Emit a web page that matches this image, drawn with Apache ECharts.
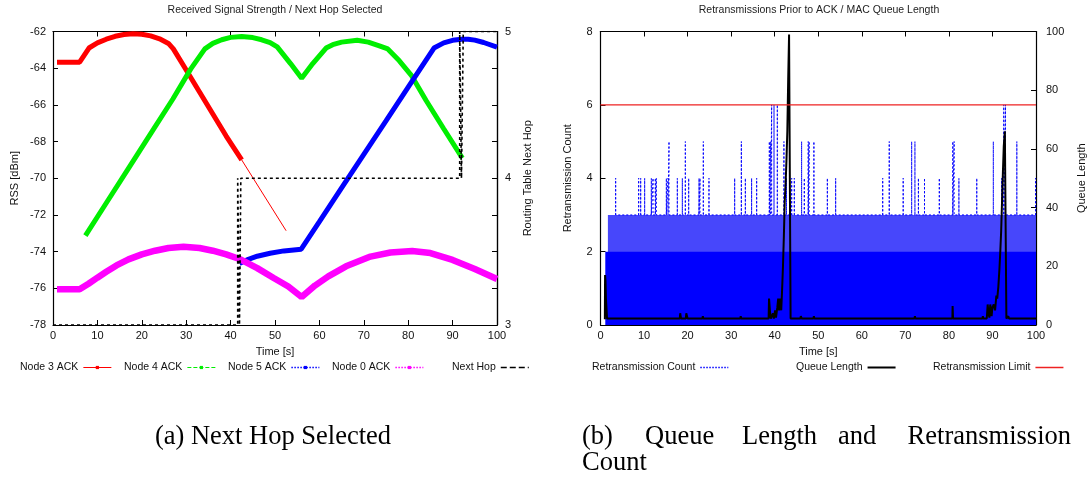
<!DOCTYPE html>
<html><head><meta charset="utf-8">
<script src="https://cdn.jsdelivr.net/npm/echarts@6/dist/echarts.min.js"></script>
<style>html,body{margin:0;padding:0;background:#fff}#c{width:1089px;height:477px}</style>
</head><body><div id="c"></div><script>
// ---------- Data: (a) Received signal strength / next hop ----------
const node3Time = [0.9, 6.0, 8.1, 10, 12, 14, 16, 18, 20, 22, 24, 26, 27.1, 30, 33, 36, 39, 42.5];
const node3Rss  = [-63.67, -63.67, -62.9, -62.62, -62.42, -62.26, -62.16, -62.12, -62.15, -62.24, -62.4, -62.65, -62.95, -64.1, -65.3, -66.5, -67.7, -69.0];
const node3TailTime = [42.5, 52.5];
const node3TailRss  = [-69.0, -72.86];
const node4Time = [7.3, 12, 17, 22, 27, 31, 34.2, 36, 38, 40, 42.5, 45, 47, 48.9, 50.5, 53.5, 56.0, 58.5, 61.5, 63, 65, 68.5, 71, 73.5, 75.4, 78, 80.8, 84, 88, 92.2];
const node4Rss  = [-73.13, -71.35, -69.46, -67.57, -65.68, -64.05, -62.95, -62.65, -62.45, -62.32, -62.27, -62.33, -62.45, -62.6, -62.84, -63.75, -64.55, -63.75, -62.9, -62.72, -62.58, -62.48, -62.58, -62.78, -62.95, -63.6, -64.42, -65.75, -67.3, -68.9];
const node5Time = [42, 44, 46, 48.9, 52, 55.9, 60, 65, 70, 75, 80, 85.8, 88, 90, 92, 93.5, 95, 97, 100];
const node5Rss  = [-74.64, -74.42, -74.25, -74.09, -73.96, -73.87, -72.37, -70.53, -68.7, -66.87, -65.03, -62.9, -62.62, -62.48, -62.42, -62.42, -62.47, -62.6, -62.85];
const node0Time = [0.9, 6.0, 8, 10, 12, 14.3, 17, 20, 23, 26, 29.4, 33, 36, 39, 42, 46, 49.8, 53, 56.0, 59, 62, 66, 71.5, 76, 80.9, 85, 90, 95, 100];
const node0Rss  = [-76.05, -76.05, -75.75, -75.42, -75.1, -74.75, -74.42, -74.15, -73.95, -73.8, -73.73, -73.8, -73.95, -74.15, -74.4, -74.9, -75.45, -75.9, -76.47, -75.85, -75.35, -74.8, -74.27, -74.05, -73.97, -74.08, -74.45, -74.95, -75.49];
const nextHopTime = [0, 41.6, 41.6, 42.0, 42.0, 42.3, 42.3, 91.6, 91.6, 92.0, 92.0, 92.4, 92.4, 100];
const nextHopNode = [3, 3, 4, 4, 3, 3, 4, 4, 5, 5, 4, 4, 5, 5];
const rssTicks = [-78, -62, 2];      // min, max, step
const hopTicks = [3, 5, 1];
const timeTicks = [0, 100, 10];

// ---------- Data: (b) Retransmissions / queue length ----------
const retxFloorSpan = [1.1, 100];   // dense band reaching 2 retransmissions
const retxFloorLevel = 2;
const retxUpperSpan = [1.7, 100];   // frequent excursions to 3
const retxUpperLevel = 3;
const retxSpikeTime  = [3.48, 8.76, 9.23, 10.14, 11.67, 12.06, 12.59, 12.82, 15.12, 15.5, 15.73, 17.64, 18.79, 19.48, 20.25, 22.62, 22.85, 23.61, 24.91, 30.81, 32.34, 33.26, 34.7, 35.86, 38.77, 39.07, 39.3, 39.84, 40.6, 42.12, 42.7, 43.9, 44.5, 46.18, 46.8, 47.7, 47.9, 49.0, 52.09, 54.0, 64.8, 66.3, 69.5, 71.45, 72.2, 73.0, 74.4, 77.8, 80.9, 81.2, 82.3, 86.4, 90.2, 92.1, 92.6, 93.0, 95.6, 99.9];
const retxSpikeCount = [4, 4, 4, 4, 4, 4, 4, 4, 4, 4, 5, 4, 4, 5, 4, 4, 4, 5, 4, 4, 5, 4, 4, 4, 5, 5, 6, 6, 6, 5, 4, 4, 4, 5, 4, 5, 5, 5, 4, 4, 4, 5, 4, 5, 5, 4, 4, 4, 5, 5, 4, 4, 5, 4, 6, 6, 5, 4];
const queueTime = [1.0, 1.05, 1.15, 1.25, 1.4, 1.5, 18.2, 18.3, 18.5, 19.6, 19.7, 19.9, 20.0, 23.4, 23.5, 23.6, 32.1, 32.2, 32.3, 38.6, 38.7, 38.9, 39.1, 39.5, 39.6, 39.8, 40.1, 40.3, 40.6, 40.8, 41.0, 41.2, 41.5, 41.7, 41.9, 42.1, 42.3, 42.5, 42.7, 42.9, 43.1, 43.3, 43.6, 43.65, 45.9, 46.0, 46.2, 48.9, 49.0, 49.1, 72.1, 72.2, 72.3, 80.8, 80.85, 80.95, 87.7, 87.8, 87.9, 88.7, 88.9, 89.1, 89.3, 89.5, 89.8, 90.0, 90.3, 90.6, 90.9, 91.1, 91.35, 91.6, 91.8, 92.0, 92.2, 92.4, 92.6, 92.85, 93.1, 93.2, 93.6, 93.65, 93.8, 100];
const queueLen  = [2, 17, 15, 9, 9, 2.2, 2.2, 4, 2.2, 2.2, 4, 4, 2.2, 2.2, 3, 2.2, 2.2, 3, 2.2, 2.2, 9, 5, 2.2, 2.2, 4, 2.2, 5, 2.5, 6, 9, 5, 9, 5, 12, 20, 30, 42, 48, 56, 66, 84, 99, 99, 2.2, 2.2, 3, 2.2, 2.2, 3, 2.2, 2.2, 3, 2.2, 2.2, 6.5, 2.2, 2.2, 3, 2.2, 2.2, 7, 4, 2.5, 7, 3, 6, 7, 5, 10, 9, 13, 19, 25, 32, 42, 52, 61, 66, 66, 2.2, 2.2, 3, 2.2, 2.2];
const limitTime = [0, 100];
const limitCount = [6, 6];
const retxTicks = [0, 8, 2];
const queueTicks = [0, 100, 20];

// ---------- Chart ----------
const FONT = 'Liberation Sans';
const SERIF = 'Liberation Serif';
const zip = (a, b) => a.map((v, i) => [v, b[i]]);
const spikeData = [];
retxSpikeTime.forEach((t, i) => { spikeData.push([t, retxUpperLevel], [t, retxSpikeCount[i]], [t, retxUpperLevel]); });

const txt = { color: '#111', fontFamily: FONT, fontSize: 11 };
function xAx(grid, pos, labels, name) {
  return {
    type: 'value', gridIndex: grid, position: pos, min: timeTicks[0], max: timeTicks[1], interval: timeTicks[2],
    axisLine: { show: true, onZero: false, lineStyle: { color: '#000', width: 1.2 } },
    axisTick: { show: true, inside: true, length: 5, lineStyle: { color: '#000' } },
    axisLabel: Object.assign({ show: labels, margin: 5 }, txt),
    splitLine: { show: false },
    name: name || '', nameLocation: 'middle', nameGap: 21, nameTextStyle: txt
  };
}
function yAx(grid, pos, t, labels, name, gap, margin, ticks) {
  return {
    type: 'value', gridIndex: grid, position: pos, min: t[0], max: t[1], interval: t[2],
    axisLine: { show: true, onZero: false, lineStyle: { color: '#000', width: 1.2 } },
    axisTick: { show: ticks, inside: true, length: 5, lineStyle: { color: '#000' } },
    axisLabel: Object.assign({ show: labels, margin: margin }, txt),
    splitLine: { show: false },
    name: name || '', nameLocation: 'middle', nameGap: gap, nameTextStyle: txt
  };
}
function line(name, data, x, y, color, width, extra) {
  return Object.assign({
    type: 'line', name: name, data: data, xAxisIndex: x, yAxisIndex: y,
    showSymbol: false, symbol: 'rect', symbolSize: 4, color: color,
    lineStyle: { color: color, width: width }, silent: true, animation: false
  }, extra || {});
}
function leg(name, left, type, width, marker, color) {
  const ls = { type: type, width: width };
  if (color) ls.color = color;
  return {
    data: [name], left: left, top: 362, align: 'right', padding: 0,
    itemWidth: 28, itemHeight: 4, selectedMode: false,
    textStyle: { color: '#111', fontFamily: FONT, fontSize: 10.5 },
    lineStyle: ls,
    itemStyle: { opacity: marker ? 1 : 0 }
  };
}
function cap(text, x, y, align) {
  return { type: 'text', x: x, y: y, style: { text: text, align: align, verticalAlign: 'middle', fontFamily: SERIF, fontSize: 26.5, fill: '#000' } };
}

const chart = echarts.init(document.getElementById('c'), null, { renderer: 'canvas' });
chart.setOption({
  backgroundColor: '#fff',
  animation: false,
  grid: [
    { left: 53, top: 31.5, width: 444, height: 293.5 },
    { left: 600.5, top: 31.5, width: 435.5, height: 293.5 }
  ],
  xAxis: [
    xAx(0, 'bottom', true, 'Time [s]'), xAx(0, 'top', false),
    xAx(1, 'bottom', true, 'Time [s]'), xAx(1, 'top', false)
  ],
  yAxis: [
    yAx(0, 'left', rssTicks, true, 'RSS [dBm]', 33, 7, true),
    yAx(0, 'right', hopTicks, true, 'Routing Table Next Hop', 25, 8, true),
    yAx(0, 'right', rssTicks, false, '', 0, 0, true),
    yAx(1, 'left', retxTicks, true, 'Retransmission Count', 27, 8, true),
    yAx(1, 'right', queueTicks, true, 'Queue Length', 40, 10, true)
  ],
  legend: [
    leg('Node 3 ACK', 20, 'solid', 1, true),
    leg('Node 4 ACK', 124, 'dashed', 1, true),
    leg('Node 5 ACK', 228, 'dotted', 1.5, true),
    leg('Node 0 ACK', 332, 'dotted', 1.5, true),
    leg('Next Hop', 452, 'dashed', 1.5, false),
    leg('Retransmission Count', 592, 'dotted', 1.5, false),
    leg('Queue Length', 796, 'solid', 2, false),
    leg('Retransmission Limit', 933, 'solid', 1.5, false, '#ee2222')
  ],
  series: [
    line('Node 3 ACK', zip(node3Time, node3Rss), 0, 0, '#ff0000', 5),
    line('node3tail', zip(node3TailTime, node3TailRss), 0, 0, '#ff0000', 1, { symbol: 'none' }),
    line('Node 4 ACK', zip(node4Time, node4Rss), 0, 0, '#00ee00', 5),
    line('Node 5 ACK', zip(node5Time, node5Rss), 0, 0, '#0000ff', 5),
    line('Node 0 ACK', zip(node0Time, node0Rss), 0, 0, '#ff00ff', 6.5),
    line('Next Hop', zip(nextHopTime, nextHopNode), 0, 1, '#000000', 1.6, { symbol: 'none', lineStyle: { color: '#000', width: 1.6, type: [3, 3] } }),
    line('retxUpper', zip(retxUpperSpan, [retxUpperLevel, retxUpperLevel]), 2, 3, '#0000ff', 0, { symbol: 'none', areaStyle: { color: 'rgba(10,10,250,0.75)', opacity: 1 } }),
    line('retxFloor', zip(retxFloorSpan, [retxFloorLevel, retxFloorLevel]), 2, 3, '#0000ff', 0, { symbol: 'none', areaStyle: { color: '#0000ff', opacity: 1 } }),
    line('Retransmission Count', spikeData, 2, 3, '#0000ff', 1, { symbol: 'none', lineStyle: { color: '#0000ff', width: 1, type: [2, 2] } }),
    line('Queue Length', zip(queueTime, queueLen), 2, 4, '#000000', 2, { symbol: 'none' }),
    line('Retransmission Limit', zip(limitTime, limitCount), 2, 3, '#ee2222', 1.3, { symbol: 'none' })
  ],
  graphic: [
    { type: 'text', x: 275, y: 10, style: { text: 'Received Signal Strength / Next Hop Selected', align: 'center', verticalAlign: 'middle', fontFamily: FONT, fontSize: 10.5, fill: '#222' } },
    { type: 'text', x: 819, y: 10, style: { text: 'Retransmissions Prior to ACK / MAC Queue Length', align: 'center', verticalAlign: 'middle', fontFamily: FONT, fontSize: 10.5, fill: '#222' } },
    cap('(a) Next Hop Selected', 273, 437, 'center'),
    cap('(b)', 582, 437, 'left'),
    cap('Queue', 645, 437, 'left'),
    cap('Length', 742, 437, 'left'),
    cap('and', 838, 437, 'left'),
    cap('Retransmission', 1071, 437, 'right'),
    cap('Count', 582, 463, 'left')
  ]
});
</script></body></html>
